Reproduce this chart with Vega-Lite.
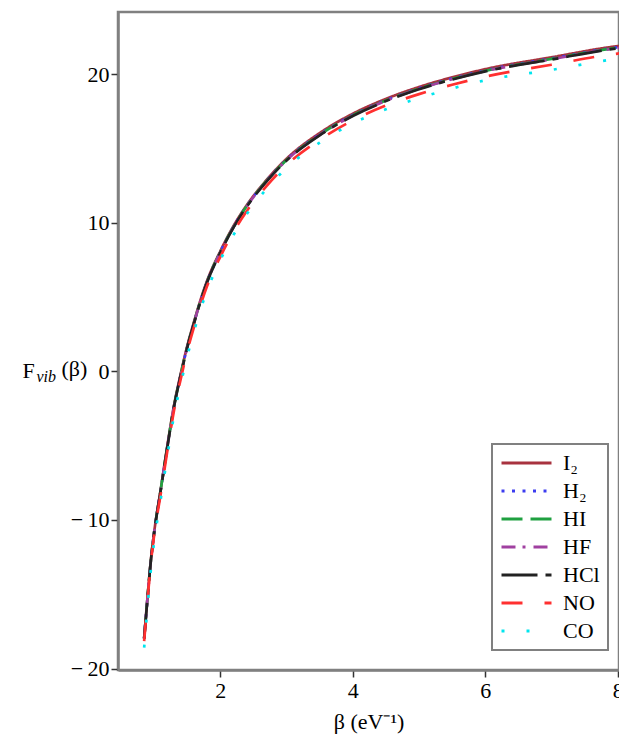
{
"$schema": "https://vega.github.io/schema/vega-lite/v6.json",
"width": 501, "height": 658,
"autosize": {"type": "none"},
"padding": {"left": 118, "top": 12, "right": 0, "bottom": 73},
"config": {
  "view": {"stroke": "#808080", "strokeWidth": 2.5},
  "font": "Liberation Serif",
  "axis": {"grid": false, "labelFont": "Liberation Serif", "titleFont": "Liberation Serif", "labelFontSize": 22, "titleFontSize": 22, "labelColor": "#000", "titleColor": "#000", "titleFontWeight": "normal", "domainColor": "#808080", "domainWidth": 2.5, "tickColor": "#333", "tickWidth": 1.5, "tickSize": 7},
  "legend": {"strokeWidth": 2}
},
"datasets": {"d": [
{"b":0.85,"s":"I₂","f":-17.95},{"b":0.9,"s":"I₂","f":-15.25},{"b":0.95,"s":"I₂","f":-12.75},{"b":1.0,"s":"I₂","f":-10.85},{"b":1.1,"s":"I₂","f":-7.95},{"b":1.2,"s":"I₂","f":-5.0},{"b":1.3,"s":"I₂","f":-2.3},{"b":1.4,"s":"I₂","f":-0.2},{"b":1.5,"s":"I₂","f":1.7},{"b":1.6,"s":"I₂","f":3.3},{"b":1.7,"s":"I₂","f":4.8},{"b":1.8,"s":"I₂","f":6.1},{"b":2.0,"s":"I₂","f":8.1},{"b":2.2,"s":"I₂","f":9.8},{"b":2.4,"s":"I₂","f":11.2},{"b":2.7,"s":"I₂","f":12.9},{"b":3.0,"s":"I₂","f":14.32},{"b":3.5,"s":"I₂","f":16.05},{"b":4.0,"s":"I₂","f":17.35},{"b":4.5,"s":"I₂","f":18.35},{"b":5.0,"s":"I₂","f":19.15},{"b":5.5,"s":"I₂","f":19.8},{"b":6.0,"s":"I₂","f":20.35},{"b":7.0,"s":"I₂","f":21.15},{"b":8.0,"s":"I₂","f":21.9},{"b":8.1,"s":"I₂","f":21.95},
{"b":0.85,"s":"H₂","f":-17.97},{"b":0.9,"s":"H₂","f":-15.27},{"b":0.95,"s":"H₂","f":-12.77},{"b":1.0,"s":"H₂","f":-10.87},{"b":1.1,"s":"H₂","f":-7.97},{"b":1.2,"s":"H₂","f":-5.07},{"b":1.3,"s":"H₂","f":-2.37},{"b":1.4,"s":"H₂","f":-0.27},{"b":1.5,"s":"H₂","f":1.63},{"b":1.6,"s":"H₂","f":3.24},{"b":1.7,"s":"H₂","f":4.74},{"b":1.8,"s":"H₂","f":6.04},{"b":2.0,"s":"H₂","f":8.05},{"b":2.2,"s":"H₂","f":9.75},{"b":2.4,"s":"H₂","f":11.15},{"b":2.7,"s":"H₂","f":12.85},{"b":3.0,"s":"H₂","f":14.26},{"b":3.5,"s":"H₂","f":15.97},{"b":4.0,"s":"H₂","f":17.27},{"b":4.5,"s":"H₂","f":18.27},{"b":5.0,"s":"H₂","f":19.07},{"b":5.5,"s":"H₂","f":19.72},{"b":6.0,"s":"H₂","f":20.27},{"b":7.0,"s":"H₂","f":21.07},{"b":8.0,"s":"H₂","f":21.82},{"b":8.1,"s":"H₂","f":21.87},
{"b":0.85,"s":"HI","f":-17.96},{"b":0.9,"s":"HI","f":-15.26},{"b":0.95,"s":"HI","f":-12.76},{"b":1.0,"s":"HI","f":-10.86},{"b":1.1,"s":"HI","f":-7.96},{"b":1.2,"s":"HI","f":-5.06},{"b":1.3,"s":"HI","f":-2.36},{"b":1.4,"s":"HI","f":-0.26},{"b":1.5,"s":"HI","f":1.64},{"b":1.6,"s":"HI","f":3.24},{"b":1.7,"s":"HI","f":4.74},{"b":1.8,"s":"HI","f":6.04},{"b":2.0,"s":"HI","f":8.04},{"b":2.2,"s":"HI","f":9.74},{"b":2.4,"s":"HI","f":11.14},{"b":2.7,"s":"HI","f":12.84},{"b":3.0,"s":"HI","f":14.24},{"b":3.5,"s":"HI","f":15.94},{"b":4.0,"s":"HI","f":17.24},{"b":4.5,"s":"HI","f":18.24},{"b":5.0,"s":"HI","f":19.04},{"b":5.5,"s":"HI","f":19.69},{"b":6.0,"s":"HI","f":20.24},{"b":7.0,"s":"HI","f":21.04},{"b":8.0,"s":"HI","f":21.79},{"b":8.1,"s":"HI","f":21.84},
{"b":0.85,"s":"HF","f":-17.98},{"b":0.9,"s":"HF","f":-15.28},{"b":0.95,"s":"HF","f":-12.78},{"b":1.0,"s":"HF","f":-10.88},{"b":1.1,"s":"HF","f":-7.98},{"b":1.2,"s":"HF","f":-5.08},{"b":1.3,"s":"HF","f":-2.38},{"b":1.4,"s":"HF","f":-0.28},{"b":1.5,"s":"HF","f":1.62},{"b":1.6,"s":"HF","f":3.22},{"b":1.7,"s":"HF","f":4.72},{"b":1.8,"s":"HF","f":6.02},{"b":2.0,"s":"HF","f":8.02},{"b":2.2,"s":"HF","f":9.72},{"b":2.4,"s":"HF","f":11.12},{"b":2.7,"s":"HF","f":12.82},{"b":3.0,"s":"HF","f":14.22},{"b":3.5,"s":"HF","f":15.92},{"b":4.0,"s":"HF","f":17.22},{"b":4.5,"s":"HF","f":18.22},{"b":5.0,"s":"HF","f":19.02},{"b":5.5,"s":"HF","f":19.67},{"b":6.0,"s":"HF","f":20.22},{"b":7.0,"s":"HF","f":21.02},{"b":8.0,"s":"HF","f":21.77},{"b":8.1,"s":"HF","f":21.82},
{"b":0.85,"s":"HCl","f":-18.0},{"b":0.9,"s":"HCl","f":-15.3},{"b":0.95,"s":"HCl","f":-12.8},{"b":1.0,"s":"HCl","f":-10.9},{"b":1.1,"s":"HCl","f":-8.0},{"b":1.2,"s":"HCl","f":-5.1},{"b":1.3,"s":"HCl","f":-2.4},{"b":1.4,"s":"HCl","f":-0.3},{"b":1.5,"s":"HCl","f":1.6},{"b":1.6,"s":"HCl","f":3.2},{"b":1.7,"s":"HCl","f":4.7},{"b":1.8,"s":"HCl","f":6.0},{"b":2.0,"s":"HCl","f":8.0},{"b":2.2,"s":"HCl","f":9.7},{"b":2.4,"s":"HCl","f":11.1},{"b":2.7,"s":"HCl","f":12.8},{"b":3.0,"s":"HCl","f":14.2},{"b":3.5,"s":"HCl","f":15.9},{"b":4.0,"s":"HCl","f":17.2},{"b":4.5,"s":"HCl","f":18.2},{"b":5.0,"s":"HCl","f":19.0},{"b":5.5,"s":"HCl","f":19.65},{"b":6.0,"s":"HCl","f":20.2},{"b":7.0,"s":"HCl","f":21.0},{"b":8.0,"s":"HCl","f":21.75},{"b":8.1,"s":"HCl","f":21.8},
{"b":0.85,"s":"NO","f":-18.15},{"b":0.9,"s":"NO","f":-15.45},{"b":0.95,"s":"NO","f":-12.95},{"b":1.0,"s":"NO","f":-11.05},{"b":1.1,"s":"NO","f":-8.25},{"b":1.2,"s":"NO","f":-5.35},{"b":1.3,"s":"NO","f":-2.65},{"b":1.4,"s":"NO","f":-0.55},{"b":1.5,"s":"NO","f":1.35},{"b":1.6,"s":"NO","f":2.95},{"b":1.7,"s":"NO","f":4.45},{"b":1.8,"s":"NO","f":5.75},{"b":2.0,"s":"NO","f":7.72},{"b":2.2,"s":"NO","f":9.4},{"b":2.4,"s":"NO","f":10.8},{"b":2.7,"s":"NO","f":12.5},{"b":3.0,"s":"NO","f":13.9},{"b":3.5,"s":"NO","f":15.6},{"b":4.0,"s":"NO","f":16.9},{"b":4.5,"s":"NO","f":17.9},{"b":5.0,"s":"NO","f":18.67},{"b":5.5,"s":"NO","f":19.3},{"b":6.0,"s":"NO","f":19.85},{"b":7.0,"s":"NO","f":20.65},{"b":8.0,"s":"NO","f":21.4},{"b":8.1,"s":"NO","f":21.45},
{"b":0.85,"s":"CO","f":-18.6},{"b":0.9,"s":"CO","f":-15.9},{"b":0.95,"s":"CO","f":-13.4},{"b":1.0,"s":"CO","f":-11.5},{"b":1.1,"s":"CO","f":-8.6},{"b":1.2,"s":"CO","f":-5.7},{"b":1.3,"s":"CO","f":-3.0},{"b":1.4,"s":"CO","f":-0.9},{"b":1.5,"s":"CO","f":1.0},{"b":1.6,"s":"CO","f":2.65},{"b":1.7,"s":"CO","f":4.15},{"b":1.8,"s":"CO","f":5.45},{"b":2.0,"s":"CO","f":7.5},{"b":2.2,"s":"CO","f":9.2},{"b":2.4,"s":"CO","f":10.6},{"b":2.7,"s":"CO","f":12.3},{"b":3.0,"s":"CO","f":13.7},{"b":3.5,"s":"CO","f":15.4},{"b":4.0,"s":"CO","f":16.7},{"b":4.5,"s":"CO","f":17.65},{"b":5.0,"s":"CO","f":18.4},{"b":5.5,"s":"CO","f":19.05},{"b":6.0,"s":"CO","f":19.6},{"b":7.0,"s":"CO","f":20.3},{"b":8.0,"s":"CO","f":21.05},{"b":8.1,"s":"CO","f":21.1}
]},
"data": {"name": "d"},
"layer": [
  {
    "mark": {"type": "line", "strokeWidth": 2.7, "clip": true, "interpolate": "monotone"},
    "encoding": {
      "x": {"field": "b", "type": "quantitative", "scale": {"domain": [0.455, 8.02], "nice": false, "zero": false},
            "axis": {"values": [2, 4, 6, 8], "format": "d", "title": "β (eV⁻¹)", "labelPadding": 3, "titlePadding": 10}},
      "y": {"field": "f", "type": "quantitative", "scale": {"domain": [-20.1, 24.2], "nice": false, "zero": false},
            "axis": {"values": [-20, -10, 0, 10, 20], "labelPadding": 2,
                     "labelExpr": "datum.value < 0 ? '−\u2009' + format(-datum.value, 'd') : datum.label",
                     "title": "F", "titleAngle": 0, "titleAlign": "left", "titleBaseline": "middle", "titleX": -96, "titleY": 358}},
      "color": {"field": "s", "type": "nominal",
                "scale": {"domain": ["I₂", "H₂", "HI", "HF", "HCl", "NO", "CO"], "range": ["#a8323f", "#3c3cf0", "#1fa040", "#a040a0", "#222222", "#ff3030", "#00e5ee"]},
                "legend": {"title": null, "orient": "none", "legendX": 374, "legendY": 432, "symbolType": "stroke", "symbolSize": 2500, "symbolStrokeWidth": 3, "labelFontSize": 22, "labelFont": "Liberation Serif", "labelColor": "#000", "strokeColor": "#808080", "fillColor": "#ffffff", "padding": 8, "rowPadding": 6, "clipHeight": 22, "labelOffset": 10}},
      "strokeDash": {"field": "s", "type": "nominal",
                "scale": {"domain": ["I₂", "H₂", "HI", "HF", "HCl", "NO", "CO"], "range": [[1, 0], [3, 7.5], [21, 8], [14, 7, 3, 8], [36, 8, 6, 8], [21, 22], [3, 22]]},
                "legend": {"title": null, "orient": "none", "legendX": 374, "legendY": 432, "symbolType": "stroke", "symbolSize": 2500, "symbolStrokeWidth": 3, "labelFontSize": 22, "labelFont": "Liberation Serif", "labelColor": "#000", "strokeColor": "#808080", "fillColor": "#ffffff", "padding": 8, "rowPadding": 6, "clipHeight": 22, "labelOffset": 10}}
    }
  },
  {
    "mark": {"type": "point", "opacity": 0},
    "encoding": {
      "x": {"field": "b", "type": "quantitative", "scale": {"domain": [0.455, 8.02], "nice": false, "zero": false},
            "axis": {"orient": "top", "domain": false, "ticks": false, "labels": false, "title": "(β)", "titleAngle": 0, "titleAlign": "left", "titleBaseline": "middle", "titleX": -57, "titleY": 356}},
      "y": {"field": "f", "type": "quantitative", "scale": {"domain": [-20.1, 24.2], "nice": false, "zero": false},
            "axis": {"orient": "right", "domain": false, "ticks": false, "labels": false, "title": "vib", "titleFontStyle": "italic", "titleFontSize": 16, "titleAngle": 0, "titleAlign": "left", "titleBaseline": "alphabetic", "titleX": -583, "titleY": 369}}
    }
  }
],
"resolve": {"axis": {"x": "independent", "y": "independent"}}
}
